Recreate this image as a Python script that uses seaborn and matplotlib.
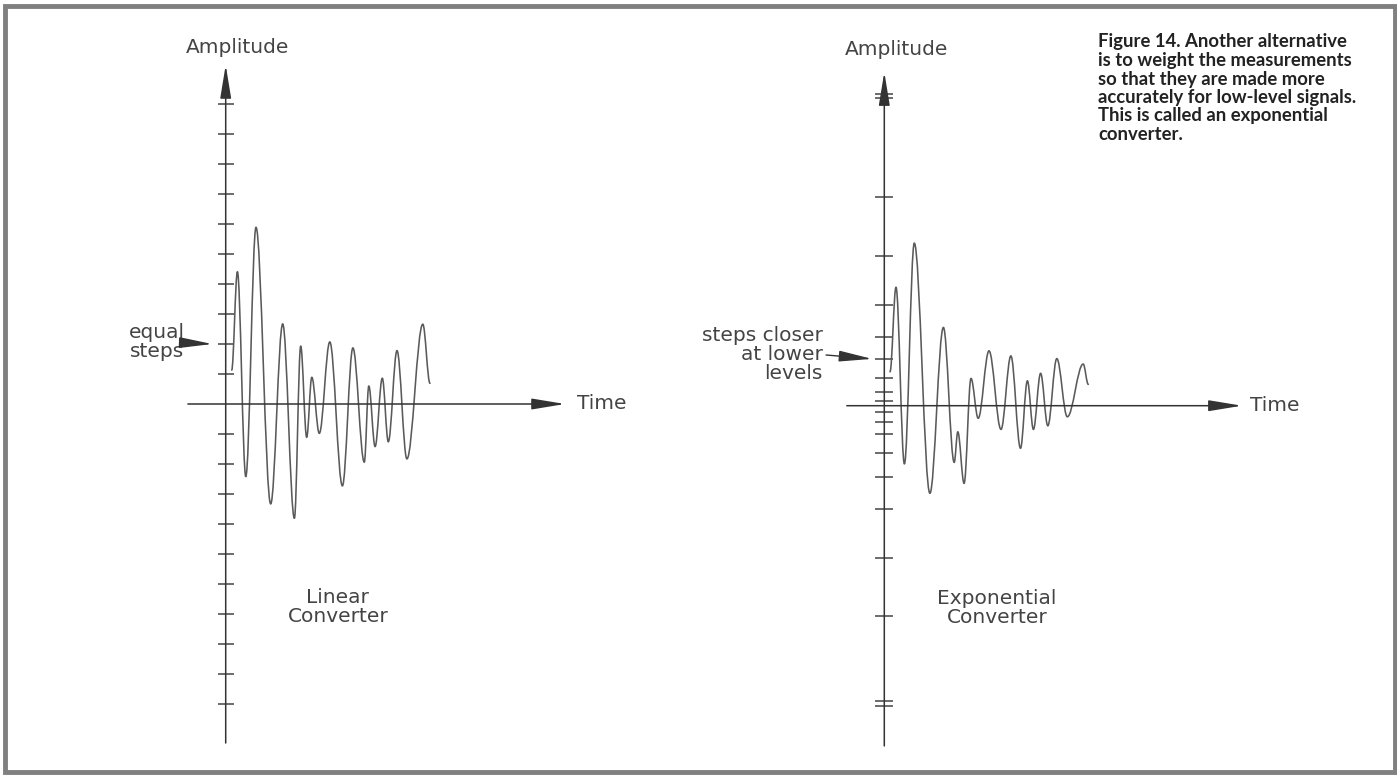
import seaborn as sns
import matplotlib.pyplot as plt
from matplotlib.path import Path
from matplotlib.patches import PathPatch, Rectangle

# ---- data (amplitude in linear steps, time in the same step size) ----
lin_time = [0.20, 0.39, 0.67, 1.01, 1.50, 1.90, 2.29, 2.50, 2.70, 2.87, 3.12, 3.47,
            3.89, 4.24, 4.62, 4.77, 4.98, 5.22, 5.42, 5.71, 6.04, 6.57, 6.81]
lin_amp = [1.13, 4.41, -2.42, 5.89, -3.33, 2.67, -3.81, 1.93, -1.11, 0.89, -0.98, 2.07,
           -2.73, 1.87, -1.94, 0.60, -1.42, 0.86, -1.26, 1.78, -1.83, 2.66, 0.69]

exp_time = [0.19, 0.39, 0.67, 1.00, 1.52, 1.97, 2.33, 2.45, 2.66, 2.89, 3.13, 3.49,
            3.89, 4.22, 4.54, 4.77, 4.97, 5.21, 5.45, 5.75, 6.10, 6.63, 6.80]
exp_amp = [1.13, 3.95, -1.94, 5.42, -2.92, 2.61, -1.89, -0.87, -2.59, 0.91, -0.42, 1.83,
           -0.79, 1.66, -1.42, 0.83, -0.79, 1.08, -0.67, 1.57, -0.37, 1.39, 0.71]

lin_steps = [-10, -9, -8, -7, -6, -5, -4, -3, -2, -1, 1, 2, 3, 4, 5, 6, 7, 8, 9, 10]
exp_steps_up = [0.16, 0.47, 0.92, 1.56, 2.29, 3.36, 4.99, 6.96, 10.25, 10.39]
exp_steps_down = [0.20, 0.53, 0.95, 1.59, 2.37, 3.44, 5.08, 7.01, 9.83, 10.00]

caption = ["Figure 14. Another alternative",
           "is to weight the measurements",
           "so that they are made more",
           "accurately for low-level signals.",
           "This is called an exponential",
           "converter."]

# ---- layout ----
W, H = 1397, 775
UNIT = 30.0
INK = "#444444"
WAVE = "#5a5a5a"

sns.set_theme(style="white")
plt.rcParams['font.family'] = ['DejaVu Sans']

fig = plt.figure(figsize=(W / 100, H / 100), dpi=100)
fig.patch.set_facecolor("white")


def make_axes(left, top, right, bottom, ox, oy):
    ax = fig.add_axes([left / W, 1 - bottom / H, (right - left) / W, (bottom - top) / H])
    ax.set_xlim((left - ox) / UNIT, (right - ox) / UNIT)
    ax.set_ylim((oy - bottom) / UNIT, (oy - top) / UNIT)
    ax.set_facecolor("none")
    for s in ["top", "right", "bottom"]:
        ax.spines[s].set_visible(False)
    ax.spines["left"].set_position(("data", 0))
    ax.spines["left"].set_visible(False)
    ax.set_xticks([])
    ax.grid(False)
    return ax


def arrow(ax, start, tip, lw=1.1):
    ax.annotate("", xy=tip, xytext=start, annotation_clip=False,
                arrowprops=dict(arrowstyle="-|>,head_length=1.7,head_width=0.28",
                                color="#333333", lw=lw, shrinkA=0, shrinkB=0))


def wave(ax, t, a):
    verts = [(t[0], a[0])]
    for t0, a0, t1, a1 in zip(t[:-1], a[:-1], t[1:], a[1:]):
        d = (t1 - t0) * 0.36
        verts += [(t0 + d, a0), (t1 - d, a1), (t1, a1)]
    codes = [Path.MOVETO] + [Path.CURVE4] * (len(verts) - 1)
    ax.add_patch(PathPatch(Path(verts, codes), fill=False, edgecolor=WAVE,
                           lw=1.15, joinstyle="round", capstyle="round"))


txt = dict(color=INK, fontsize=14.5)

# ---- left panel: linear converter ----
ax1 = make_axes(130, 20, 700, 760, 225.7, 404)
ax1.set_yticks(lin_steps)
ax1.tick_params(axis="y", left=True, direction="inout", length=12, width=1.1,
                color=INK, labelleft=False)
arrow(ax1, (0, -11.3), (0, 11.3))
arrow(ax1, (-1.26, 0), (11.31, 0))
wave(ax1, lin_time, lin_amp)
ax1.text(0.41, 11.87, "Amplitude", ha="center", va="center", **txt)
ax1.text(11.7, 0, "Time", ha="left", va="center", **txt)
ax1.text(-2.3, 2.05, "equal\nsteps", ha="center", va="center", linespacing=1.0, **txt)
arrow(ax1, (-1.15, 2.03), (-0.45, 2.0), lw=1.0)
ax1.text(3.74, -6.77, "Linear\nConverter", ha="center", va="center", linespacing=1.0, **txt)

# ---- right panel: exponential converter ----
ax2 = make_axes(770, 20, 1340, 760, 884.3, 405.7)
ax2.set_yticks(exp_steps_up + [-v for v in exp_steps_down])
ax2.tick_params(axis="y", left=True, direction="inout", length=13, width=1.1,
                color=INK, labelleft=False)
arrow(ax2, (0, -11.34), (0, 11.12))
arrow(ax2, (-1.25, 0), (11.92, 0))
wave(ax2, exp_time, exp_amp)
ax2.text(0.42, 11.86, "Amplitude", ha="center", va="center", **txt)
ax2.text(12.19, 0, "Time", ha="left", va="center", **txt)
ax2.text(-2.05, 1.69, "steps closer\nat lower\nlevels", ha="right", va="center",
         linespacing=1.0, **txt)
arrow(ax2, (-1.94, 1.69), (-0.41, 1.56), lw=1.0)
ax2.text(3.76, -6.74, "Exponential\nConverter", ha="center", va="center",
         linespacing=1.0, **txt)

# ---- caption ----
for i, line in enumerate(caption):
    fig.text(1098 / W, 1 - (42 + i * 18.5) / H, line, ha="left", va="center",
             fontsize=13.3, fontweight="bold", family=["Lato", "DejaVu Sans"],
             color="#222222")

# ---- frame ----
fig.patches.append(Rectangle((4.5 / W, 3 / H), (1395 - 4.5) / W, (772 - 6) / H,
                             transform=fig.transFigure, fill=False,
                             edgecolor="#808080", lw=3.5))

fig.savefig("out.png", dpi=100, facecolor="white")
